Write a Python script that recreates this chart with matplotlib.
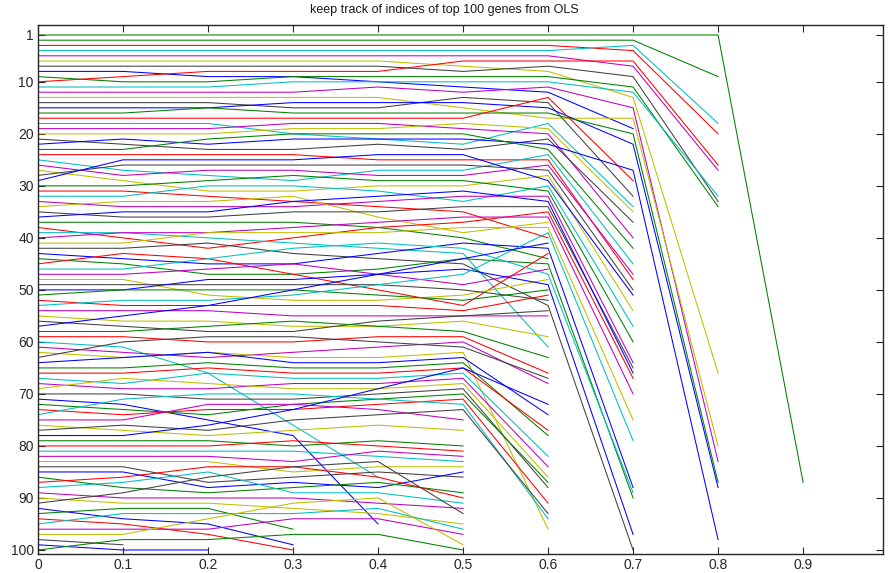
import matplotlib
matplotlib.use('Agg')
import matplotlib.pyplot as plt

# x positions of the path steps
steps = [0.0, 0.1, 0.2, 0.3, 0.4, 0.5, 0.6, 0.7, 0.8, 0.9]

# rank of each gene along the path, one list per gene (ordered by starting rank);
# a list stops where the gene leaves the top 100
ranks = [
    [1, 1, 1, 1, 1, 1, 1, 1, 1, 87],
    [2, 2, 2, 2, 2, 2, 2, 2, 9],
    [3, 3, 3, 3, 3, 3, 3, 4, 20],
    [4, 4, 4, 4, 4, 4, 4, 3, 18],
    [5, 5, 5, 5, 5, 5, 5, 7, 27],
    [6, 6, 6, 6, 6, 7, 8, 13, 66],
    [7, 7, 7, 7, 7, 8, 7, 9, 33],
    [8, 8, 9, 9, 10, 11, 12, 19],
    [9, 10, 10, 9, 9, 9, 9, 11, 34],
    [10, 9, 8, 8, 8, 6, 6, 6, 26],
    [11, 11, 11, 10, 10, 10, 10, 12, 32],
    [12, 12, 12, 12, 11, 12, 11, 15, 83],
    [13, 13, 13, 13, 13, 15, 17, 17, 80],
    [14, 14, 14, 15, 15, 13, 14, 32],
    [15, 15, 15, 14, 14, 14, 15, 22, 88],
    [16, 16, 15, 16, 16, 16, 16, 20, 87],
    [17, 17, 17, 17, 17, 17, 13, 29],
    [18, 18, 18, 20, 21, 22, 18, 34],
    [19, 19, 19, 18, 18, 19, 20, 40],
    [20, 20, 20, 19, 19, 18, 19, 35],
    [21, 22, 23, 23, 22, 23, 21, 37],
    [22, 21, 22, 21, 21, 21, 22, 27, 98],
    [23, 23, 21, 20, 20, 20, 23, 42],
    [24, 24, 24, 24, 25, 25, 25, 48],
    [25, 27, 28, 29, 27, 27, 24, 45],
    [26, 28, 27, 27, 28, 28, 26, 47],
    [27, 29, 31, 31, 30, 30, 28, 54],
    [28, 26, 26, 26, 26, 26, 27, 50],
    [29, 25, 25, 25, 24, 24, 29, 51],
    [30, 30, 29, 28, 29, 29, 31, 60],
    [31, 31, 32, 33, 34, 35, 40],
    [32, 32, 30, 30, 31, 33, 30, 57],
    [33, 34, 34, 34, 33, 32, 32, 64],
    [34, 33, 33, 32, 36, 39, 37],
    [35, 36, 36, 35, 35, 34, 34, 65],
    [36, 35, 35, 33, 32, 31, 33, 66],
    [37, 37, 37, 37, 38, 40, 44],
    [38, 40, 42, 40, 38, 37, 35, 67],
    [39, 39, 40, 41, 42, 43, 61],
    [40, 39, 39, 38, 37, 36, 36, 70],
    [41, 41, 39, 39, 39, 38, 38, 75],
    [42, 42, 41, 43, 44, 45, 53, 100],
    [43, 44, 45, 45, 43, 41, 42, 88],
    [44, 45, 47, 47, 46, 44, 45, 90],
    [45, 43, 44, 47, 50, 53, 43],
    [46, 46, 44, 42, 41, 42, 47, 89],
    [47, 47, 46, 45, 47, 49, 46],
    [48, 48, 51, 52, 52, 51, 48],
    [49, 49, 49, 49, 49, 50, 52],
    [50, 50, 48, 48, 47, 46, 49, 97],
    [51, 50, 50, 50, 51, 52, 50],
    [52, 53, 53, 53, 53, 54, 51],
    [53, 52, 52, 51, 49, 47, 39, 79],
    [54, 54, 54, 55, 55, 55, 55],
    [55, 56, 56, 57, 57, 56, 59],
    [56, 57, 58, 58, 56, 55, 54],
    [57, 55, 53, 50, 47, 44, 41],
    [58, 58, 57, 56, 57, 58, 63],
    [59, 59, 60, 60, 59, 59, 66],
    [60, 61, 66, 76, 86],
    [61, 62, 63, 62, 61, 60, 68],
    [62, 63, 62, 63, 63, 62, 96],
    [63, 60, 59, 59, 60, 61, 67],
    [64, 63, 62, 64, 64, 63, 74],
    [65, 65, 64, 65, 65, 64, 78],
    [66, 66, 65, 66, 66, 65, 77],
    [67, 68, 66, 67, 67, 66, 82],
    [68, 69, 69, 68, 68, 67, 84],
    [69, 67, 68, 69, 69, 68, 86],
    [70, 70, 71, 71, 70, 69, 88],
    [71, 72, 75, 78, 95],
    [72, 73, 74, 72, 71, 70, 87],
    [73, 74, 73, 73, 72, 71, 91],
    [74, 71, 70, 70, 71, 72, 94],
    [75, 75, 72, 72, 73, 75],
    [76, 77, 78, 77, 76, 77],
    [77, 76, 77, 75, 74, 73, 93],
    [78, 78, 76, 73, 69, 65, 72],
    [79, 79, 79, 80, 79, 80],
    [80, 80, 80, 79, 80, 81],
    [81, 81, 81, 81, 82, 83],
    [82, 82, 82, 83, 81, 82],
    [83, 83, 83, 85, 84, 84],
    [84, 84, 87, 86, 85, 86],
    [85, 85, 88, 87, 88, 85],
    [86, 88, 89, 88, 87, 89],
    [87, 86, 84, 84, 86, 90],
    [88, 87, 85, 89, 89, 91],
    [89, 90, 90, 90, 91, 92],
    [90, 91, 91, 92, 93, 95],
    [91, 89, 86, 84, 83, 93],
    [92, 94, 95, 99],
    [93, 92, 92, 96],
    [94, 95, 97, 100],
    [95, 93, 93, 93, 92, 96],
    [96, 96, 96, 94, 94, 97],
    [97, 97, 94, 91, 90, 99],
    [98, 99],
    [99, 100, 100],
    [100, 98, 98, 97, 97, 100],
]

ytick_vals = [1, 10, 20, 30, 40, 50, 60, 70, 80, 90, 100]
xtick_vals = [0, 0.1, 0.2, 0.3, 0.4, 0.5, 0.6, 0.7, 0.8, 0.9]

# old matlab 'bgrcmyk' color order
order = [(0, 0, 1), (0, 0.5, 0), (1, 0, 0), (0, 0.75, 0.75),
         (0.75, 0, 0.75), (0.75, 0.75, 0), (0.25, 0.25, 0.25)]

plt.rcParams['font.family'] = ['Liberation Sans', 'DejaVu Sans']

fig = plt.figure(figsize=(8.88, 5.73), dpi=100)
ax = fig.add_axes([38 / 888, 1 - 554 / 573, (883 - 38) / 888, (554 - 25) / 573])

for i, r in enumerate(ranks):
    c = order[i % 7] if i > 0 else order[1]
    ax.plot(steps[:len(r)], r, color=c, lw=0.75)

ax.set_xlim(0, 0.994)
ax.set_ylim(100.77, -0.92)
ax.set_yticks(ytick_vals)
ax.set_xticks(xtick_vals)
ax.set_xticklabels(['0', '0.1', '0.2', '0.3', '0.4', '0.5', '0.6', '0.7', '0.8', '0.9'])
ax.tick_params(direction='in', length=5, width=0.8, labelsize=10, colors='#262626',
               top=True, right=True, pad=3)
for s in ax.spines.values():
    s.set_color('#262626')
    s.set_linewidth(1.0)

fig.text(0.5, 1 - 10 / 573, 'keep track of indices of top 100 genes from OLS',
         ha='center', va='center', fontsize=9, color='#1a1a1a')

fig.savefig('out.png', dpi=100)
